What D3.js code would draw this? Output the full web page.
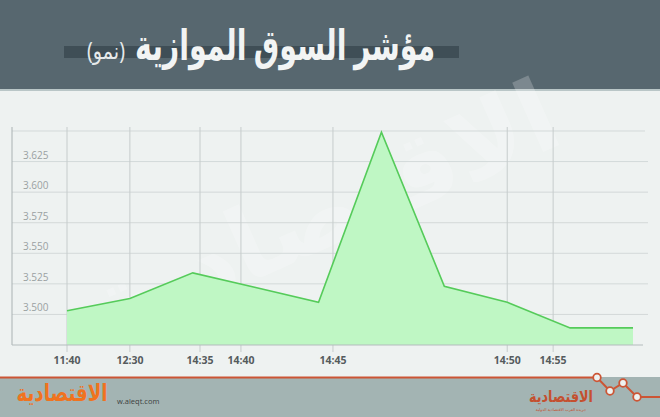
<!DOCTYPE html>
<html><head><meta charset="utf-8">
<script src="https://cdn.jsdelivr.net/npm/d3@7"></script>
<style>
html,body{margin:0;padding:0;background:#eef2f1;}
svg{display:block;}
</style></head>
<body>
<svg id="c" width="660" height="417"></svg>
<script>
// ---- data ----
const title = "مؤشر السوق الموازية";
const subtitle = "(نمو)";
const values = [3.503, 3.513, 3.534, 3.522, 3.510, 3.649, 3.523, 3.510, 3.489, 3.489];
const tickLabels = ["11:40", "12:30", "14:35", "14:40", "14:45", "14:50", "14:55"];
const tickAt = [0, 1, 2.115, 2.766, 4.229, 7.0, 7.73]; // position along the series
const yTicks = [3.500, 3.525, 3.550, 3.575, 3.600, 3.625, 3.650];
const yDomain = [3.475, 3.650];

const svg = d3.select("#c");
const W = 660, H = 417;
const AR = "'Noto Sans','DejaVu Sans',sans-serif";

// background
svg.append("rect").attr("width", W).attr("height", H).attr("fill", "#eef2f1");

// header
svg.append("rect").attr("x",0).attr("y",0).attr("width",W).attr("height",89).attr("fill","#57676f");
svg.append("rect").attr("x",0).attr("y",89).attr("width",W).attr("height",2).attr("fill","#b9c6c7");
svg.append("rect").attr("x",64).attr("y",46).attr("width",395).attr("height",12).attr("fill","#3f4e56");
svg.append("g").attr("transform","translate(285,60) scale(0.77,1.15)")
  .append("text").attr("x", 0).attr("y", 0).attr("text-anchor","middle")
  .attr("fill","#f2f4f4").attr("font-size",37).attr("font-weight","bold")
  .style("font-family",AR).text(title);
svg.append("text").attr("x", 106).attr("y", 59).attr("text-anchor","middle")
  .attr("fill","#e6eaeb").attr("font-size",23)
  .attr("textLength",38).attr("lengthAdjust","spacingAndGlyphs")
  .style("font-family",AR).text(subtitle);

// scales
const x = d3.scaleLinear().domain([0, values.length-1]).range([67, 633]);
const y = d3.scaleLinear().domain(yDomain).range([345, 131]);

// watermark
svg.append("text").attr("x", 330).attr("y", 245).attr("text-anchor","middle")
  .attr("transform","rotate(-24,330,225)")
  .attr("font-size", 100).attr("font-weight","bold").attr("fill","#ffffff").attr("opacity",0.22)
  .style("font-family",AR)
  .text("الاقتصادية");

// horizontal grid
const g = svg.append("g");
g.selectAll("line.h").data(yTicks).join("line")
  .attr("x1", 12).attr("x2", d => d===3.650 ? 645 : 648)
  .attr("y1", d => y(d)).attr("y2", d => y(d))
  .attr("stroke", "#d3d9d9").attr("stroke-width", 1);

// vertical grid
g.selectAll("line.v").data(tickAt).join("line")
  .attr("x1", d => x(d)).attr("x2", d => x(d))
  .attr("y1", 127).attr("y2", 352)
  .attr("stroke", "#c6cccc").attr("stroke-width", 1);

// area + line
const area = d3.area().x((d,i)=>x(i)).y0(y(yDomain[0])).y1(d=>y(d));
const line = d3.line().x((d,i)=>x(i)).y(d=>y(d));
svg.append("path").datum(values).attr("d", area).attr("fill","#bff7c4");
svg.append("path").datum(values).attr("d", line).attr("fill","none")
  .attr("stroke","#55cb5a").attr("stroke-width",1.6).attr("stroke-linejoin","miter");

// axes lines
svg.append("line").attr("x1",12).attr("x2",12).attr("y1",127).attr("y2",345)
  .attr("stroke","#aab2b3").attr("stroke-width",1);
svg.append("line").attr("x1",12).attr("x2",643).attr("y1",345).attr("y2",345)
  .attr("stroke","#b4bcbd").attr("stroke-width",1.2);

// y labels
svg.selectAll("text.yl").data(yTicks.filter(d=>d<3.65)).join("text")
  .attr("x", 23).attr("y", d => y(d) - 3)
  .attr("font-size", 10).attr("fill", "#9aa1a2")
  .style("font-family","'Open Sans','Noto Sans',sans-serif")
  .text(d => d3.format(".3f")(d));

// x labels
svg.selectAll("text.xl").data(tickLabels).join("text")
  .attr("x", (d,i) => x(tickAt[i])).attr("y", 364)
  .attr("text-anchor","middle").attr("font-size", 10.5).attr("font-weight","bold")
  .attr("fill", "#555b5d")
  .style("font-family","'Open Sans','Noto Sans',sans-serif")
  .text(d => d);

// footer
svg.append("rect").attr("x",0).attr("y",377).attr("width",W).attr("height",40).attr("fill","#a3b4b3");
const zz = [[0,377.5],[597,377.5],[610,391],[623,383],[637,397],[660,397]];
svg.append("path").attr("d", d3.line()(zz)).attr("fill","none")
  .attr("stroke","#cc5535").attr("stroke-width",2);
svg.selectAll("circle.z").data(zz.slice(1,5)).join("circle")
  .attr("cx",d=>d[0]).attr("cy",d=>d[1]).attr("r",3.8)
  .attr("fill","#eef2f1").attr("stroke","#cc5535").attr("stroke-width",1.8);

// left logo
svg.append("g").attr("transform","translate(62,401) scale(0.76,1)")
  .append("text").attr("x", 0).attr("y", 0).attr("text-anchor","middle")
  .attr("font-size", 24).attr("font-weight","bold").attr("fill","#f0731f")
  .style("font-family",AR)
  .text("الاقتصادية");
svg.append("text").attr("x", 117).attr("y", 404)
  .attr("font-size", 7.5).attr("fill","#3b3f40")
  .style("font-family","'Open Sans','Noto Sans',sans-serif")
  .text("w.aleqt.com");

// right logo
svg.append("g").attr("transform","translate(561,402) scale(0.8,1)")
  .append("text").attr("x", 0).attr("y", 0).attr("text-anchor","middle")
  .attr("font-size", 16).attr("font-weight","bold").attr("fill","#c4502f")
  .style("font-family",AR)
  .text("الاقتصادية");
svg.append("text").attr("x", 561).attr("y", 411).attr("text-anchor","middle")
  .attr("font-size", 4).attr("fill","#c4502f")
  .style("font-family",AR)
  .text("جريدة العرب الاقتصادية الدولية");
</script>
</body></html>
